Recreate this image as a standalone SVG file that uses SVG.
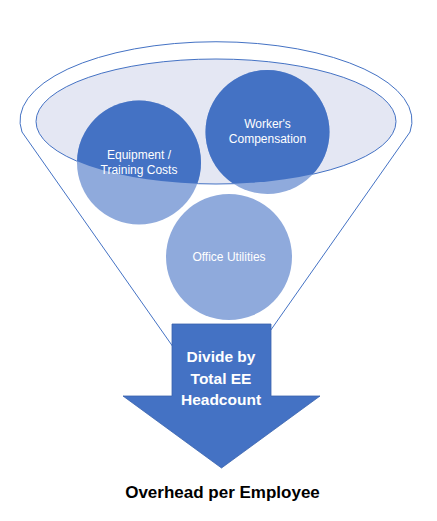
<svg xmlns="http://www.w3.org/2000/svg" width="437" height="521" viewBox="0 0 437 521">
<style>
.circ{fill:#8faadc}
.dark{fill:#4472c4}
.lbl{font-family:"Liberation Sans",Arial,sans-serif;font-size:12px;fill:#ffffff;text-anchor:middle}
.big{font-family:"Liberation Sans",Arial,sans-serif;font-size:15.5px;font-weight:bold;fill:#ffffff;text-anchor:middle}
.cap{font-family:"Liberation Sans",Arial,sans-serif;font-size:17px;font-weight:bold;fill:#000000;text-anchor:middle}
</style>
<defs>
<clipPath id="inner"><ellipse cx="216" cy="121.5" rx="180" ry="62.5"/></clipPath>
</defs>
<rect width="437" height="521" fill="#ffffff"/>
<g id="funnel">
<path d="M 22 132 A 196 79 0 1 1 410 132 L 216 408 Z" fill="#ffffff" stroke="#4472c4" stroke-width="1"/>
<ellipse cx="216" cy="121.5" rx="180" ry="62.5" fill="#e4e7f3" stroke="#4472c4" stroke-width="1"/>
</g>
<g id="equipment">
<circle class="circ" cx="139" cy="162.5" r="62"/>
<circle class="dark" cx="139" cy="162.5" r="62" clip-path="url(#inner)"/>
<text class="lbl" x="139" y="159">Equipment /</text>
<text class="lbl" x="139" y="174">Training Costs</text>
</g>
<g id="workers">
<circle class="circ" cx="267.5" cy="132" r="62"/>
<circle class="dark" cx="267.5" cy="132" r="62" clip-path="url(#inner)"/>
<text class="lbl" x="267.5" y="128">Worker's</text>
<text class="lbl" x="267.5" y="143">Compensation</text>
</g>
<g id="office">
<circle class="circ" cx="229" cy="257" r="63"/>
<text class="lbl" x="229" y="261">Office Utilities</text>
</g>
<g id="arrow">
<polygon points="172,324 271,324 271,396 320,396 221.5,468 123,396 172,396" fill="#4472c4" stroke="#3a63ad" stroke-width="0.8"/>
<text class="big" x="221" y="362">Divide by</text>
<text class="big" x="221" y="383.5">Total EE</text>
<text class="big" x="221" y="405">Headcount</text>
</g>
<g id="connectors"></g>
<g id="result">
<text class="cap" x="222.5" y="498">Overhead per Employee</text>
</g>
</svg>
